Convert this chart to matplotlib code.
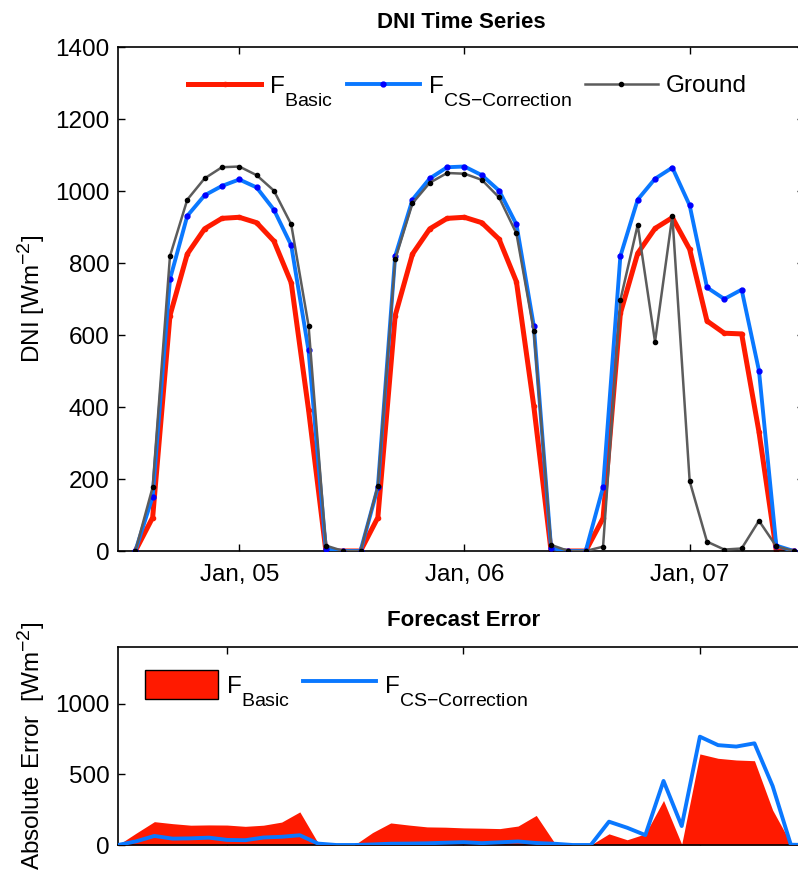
import numpy as np
import matplotlib
matplotlib.use("Agg")
import matplotlib.pyplot as plt
import matplotlib._mathtext as _mathtext
from matplotlib.lines import Line2D
from matplotlib.patches import Patch

plt.rcParams["font.family"] = ["Liberation Sans", "DejaVu Sans"]
plt.rcParams["mathtext.fontset"] = "custom"
plt.rcParams["mathtext.rm"] = "Liberation Sans"
plt.rcParams["mathtext.it"] = "Liberation Sans:italic"
plt.rcParams["mathtext.bf"] = "Liberation Sans:bold"
# TeX-style subscripts: larger and dropped well below the baseline
_mathtext.SHRINK_FACTOR = 0.8
_mathtext.FontConstantsBase.sub1 = 1.0

# DNI samples (13 per day, three days), W/m^2
f_basic = [0, 93, 654, 825, 895, 924, 927, 912, 861, 745, 392, 0, 0,
           0, 93, 654, 825, 895, 924, 927, 912, 866, 748, 403, 0, 0,
           0, 91, 660, 827, 896, 926, 838, 639, 605, 603, 331, 0, 0]
f_cs = [0, 151, 755, 931, 988, 1014, 1032, 1010, 948, 849, 557, 5, 0,
        0, 177, 819, 976, 1035, 1066, 1068, 1044, 1001, 907, 626, 8, 0,
        0, 177, 819, 976, 1034, 1065, 960, 732, 700, 726, 501, 15, 0]
ground = [0, 177, 819, 976, 1035, 1066, 1068, 1044, 1001, 907, 626, 15, 0,
          0, 181, 810, 966, 1023, 1050, 1048, 1031, 982, 882, 612, 17, 0,
          0, 12, 697, 906, 581, 931, 194, 26, 4, 7, 84, 13, 0]
day_ticks = [6, 19, 32]
day_labels = ["Jan, 05", "Jan, 06", "Jan, 07"]

x = np.arange(len(ground))
basic = np.array(f_basic, float)
cs = np.array(f_cs, float)
gnd = np.array(ground, float)
err_basic = np.abs(basic - gnd)
err_cs = np.abs(cs - gnd)

RED = "#ff1a00"
BLUE = "#0a78ff"
GRAY = "#5c5c5c"
FS = 17.5
W, H = 798, 873
LBL_BASIC = r"$\mathregular{F_{Basic}}$"
LBL_CS = r"$\mathregular{F_{CS{-}Correction}}$"

fig = plt.figure(figsize=(W / 100, H / 100), dpi=100)
ax1 = fig.add_axes([118 / W, (H - 551) / H, (804 - 118) / W, 504 / H])
ax2 = fig.add_axes([118 / W, (H - 845) / H, (809 - 118) / W, 198 / H])

# --- DNI time series ---
l1, = ax1.plot(x, basic, color=RED, lw=3.6, marker="o", ms=3, mfc=RED, mec=RED, zorder=2)
l2, = ax1.plot(x, cs, color=BLUE, lw=2.8, marker="o", ms=3.5, mfc="#0000ff", mec="#0000ff", zorder=3)
l3, = ax1.plot(x, gnd, color=GRAY, lw=1.8, marker="o", ms=3, mfc="black", mec="black", zorder=4)
ax1.set_xlim(-1, 38.6)
ax1.set_ylim(0, 1400)
ax1.set_yticks(np.arange(0, 1401, 200))
ax1.set_xticks(day_ticks)
ax1.set_xticklabels(day_labels)
ax1.set_ylabel(r"DNI [Wm$^{-2}$]", fontsize=FS, labelpad=6)
ax1.set_title("DNI Time Series", fontsize=16, fontweight="bold", pad=14)
ax1.legend([l1, l2, l3], [LBL_BASIC, LBL_CS, "Ground"],
           loc="center", bbox_to_anchor=(467.5 / W, 1 - 90.5 / H), bbox_transform=fig.transFigure,
           ncol=3, frameon=False, fontsize=FS, handlelength=3.0, handletextpad=0.33,
           columnspacing=0.55, borderpad=0, borderaxespad=0)

# --- Forecast error ---
ax2.fill_between(x, 0, err_basic, color=RED, lw=0, zorder=2)
ax2.plot(x, err_cs, color=BLUE, lw=2.8, zorder=3)
ax2.set_xlim(0, 38)
ax2.set_ylim(0, 1400)
ax2.set_yticks([0, 500, 1000])
ax2.set_xticks(day_ticks)
ax2.set_xticklabels([])
ax2.set_ylabel(r"Absolute Error  [Wm$^{-2}$]", fontsize=FS, labelpad=6)
ax2.set_title("Forecast Error", fontsize=16, fontweight="bold", pad=15)
ax2.legend([Patch(facecolor=RED, edgecolor="black", lw=1.0),
            Line2D([], [], color=BLUE, lw=2.8)],
           [LBL_BASIC, LBL_CS],
           loc="center left", bbox_to_anchor=(145 / W, 1 - 689 / H), bbox_transform=fig.transFigure,
           ncol=2, frameon=False, fontsize=FS, handlelength=3.0, handleheight=1.4,
           handletextpad=0.33, columnspacing=0.55, borderpad=0, borderaxespad=0)

for ax in (ax1, ax2):
    ax.tick_params(direction="in", top=True, right=True, length=5, width=1.0,
                   labelsize=FS)
    ax.tick_params(axis="y", pad=6)
    ax.tick_params(axis="x", pad=9)
    for s in ax.spines.values():
        s.set_linewidth(1.2)

fig.savefig("out.png", dpi=100)
